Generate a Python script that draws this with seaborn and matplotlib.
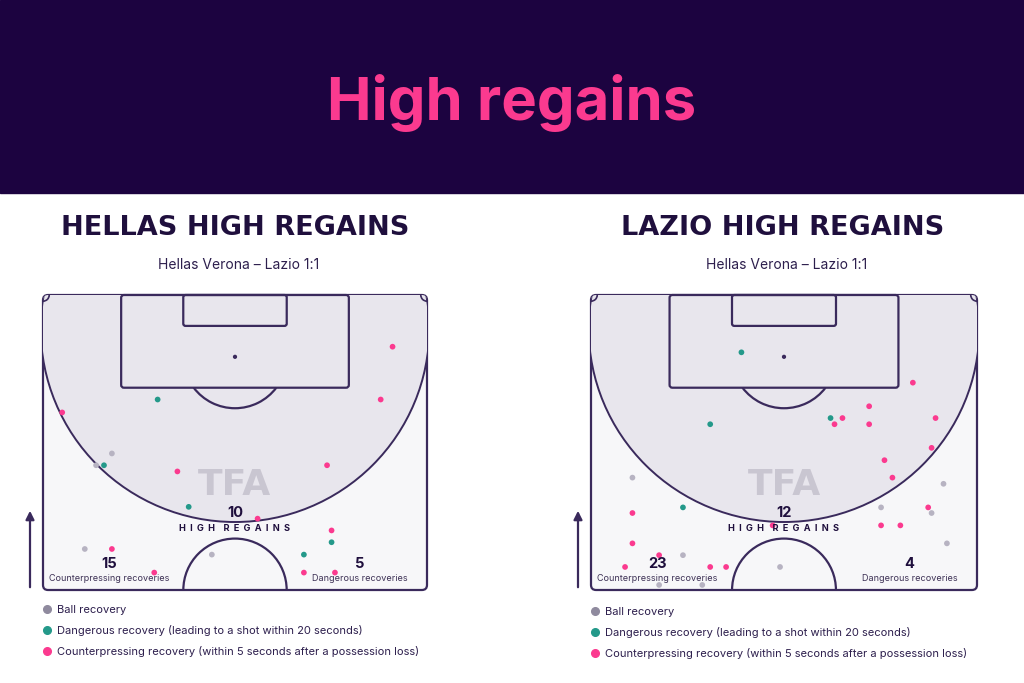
import pandas as pd
import matplotlib.pyplot as plt
import seaborn as sns
from matplotlib.patches import Rectangle, Circle, Arc, FancyBboxPatch, FancyArrowPatch
from matplotlib.lines import Line2D

sns.set_theme(style='white')
plt.rcParams['font.family'] = ['Inter', 'DejaVu Sans']

# --- data (pitch coords in metres: x across 0-68, y from goal line 0 down to halfway 52.5)
title = 'High regains'
panel_titles = ['HELLAS HIGH REGAINS', 'LAZIO HIGH REGAINS']
match_label = 'Hellas Verona – Lazio 1:1'
high_regains = [10, 12]
counterpress_totals = [15, 23]
dangerous_totals = [5, 4]

hellas_ball_x = [12.2, 9.4, 7.4, 29.9]
hellas_ball_y = [28.2, 30.3, 45.2, 46.2]
hellas_danger_x = [20.3, 10.8, 25.8, 51.1, 46.2]
hellas_danger_y = [18.6, 30.3, 37.7, 44.0, 46.2]
hellas_counter_x = [61.9, 59.8, 3.4, 50.3, 23.8, 38.0, 51.1, 12.2, 19.7, 46.2, 51.7]
hellas_counter_y = [9.2, 18.6, 20.9, 30.3, 31.4, 39.8, 41.9, 45.2, 49.4, 49.4, 49.4]

lazio_ball_x = [7.3, 62.1, 51.1, 60.0, 62.7, 16.2, 33.3, 12.0, 19.6]
lazio_ball_y = [32.5, 33.6, 37.8, 38.8, 44.2, 46.3, 48.4, 51.6, 51.6]
lazio_danger_x = [26.5, 42.2, 21.0, 16.2]
lazio_danger_y = [10.2, 21.9, 23.0, 37.8]
lazio_counter_x = [56.7, 49.0, 44.3, 60.7, 42.9, 49.0, 60.0, 51.7, 53.1, 59.4,
                   7.3, 32.0, 51.1, 54.5, 7.3, 12.0, 6.0, 21.0, 23.8]
lazio_counter_y = [15.6, 19.8, 21.9, 21.9, 23.0, 23.0, 27.2, 29.4, 32.5, 37.8,
                   38.8, 41.0, 41.0, 41.0, 44.2, 46.3, 48.4, 48.4, 48.4]

categories = ['Ball recovery',
              'Dangerous recovery (leading to a shot within 20 seconds)',
              'Counterpressing recovery (within 5 seconds after a possession loss)']

NAVY = '#1c0340'
PINK = '#fb3a8f'
TEAL = '#24998a'
GREY = '#b7b3c2'
GREY_LEG = '#8f8a9e'
LINE = '#3a2a5c'
TXT = '#1f0f3d'


def make_df(bx, by, dx, dy, cx, cy):
    parts = [pd.DataFrame({'x': bx, 'y': by, 'type': categories[0]}),
             pd.DataFrame({'x': dx, 'y': dy, 'type': categories[1]}),
             pd.DataFrame({'x': cx, 'y': cy, 'type': categories[2]})]
    return pd.concat(parts, ignore_index=True)


def draw_pitch(ax):
    outer = FancyBboxPatch((0, 0), 68, 52.5, boxstyle='round,pad=0,rounding_size=0.9',
                           fc='#f7f7f9', ec=LINE, lw=1.6, clip_on=False, zorder=1)
    ax.add_patch(outer)
    zone = Circle((34, 6.0), 34.4, fc='#e8e6ed', ec=LINE, lw=1.4, zorder=1.5)
    ax.add_patch(zone)
    zone.set_clip_path(outer)
    ax.add_patch(FancyBboxPatch((13.84, 0), 40.32, 16.5, boxstyle='round,pad=0,rounding_size=0.5',
                                fill=False, ec=LINE, lw=1.6, zorder=2, clip_on=False))
    ax.add_patch(FancyBboxPatch((24.84, 0), 18.32, 5.5, boxstyle='round,pad=0,rounding_size=0.4',
                                fill=False, ec=LINE, lw=1.6, zorder=2, clip_on=False))
    ax.add_patch(Arc((34, 11), 18.3, 18.3, theta1=36.9, theta2=143.1, ec=LINE, lw=1.6, zorder=2))
    ax.add_patch(Arc((34, 52.5), 18.3, 18.3, theta1=180, theta2=360, ec=LINE, lw=1.6, zorder=2))
    ax.add_patch(Arc((0, 0), 2.2, 2.2, theta1=0, theta2=90, ec=LINE, lw=1.2, zorder=2))
    ax.add_patch(Arc((68, 0), 2.2, 2.2, theta1=90, theta2=180, ec=LINE, lw=1.2, zorder=2))
    ax.add_patch(Circle((34, 11), 0.25, color=LINE, zorder=2))
    # watermark
    ax.text(34, 33.9, 'TFA', ha='center', va='center', fontsize=26, fontweight='bold',
            color='#c9c6d1', family=['DejaVu Sans'], zorder=1.8)


fig = plt.figure(figsize=(10.24, 6.83), dpi=100)
fig.patch.set_facecolor('white')
fig.add_artist(Rectangle((0, 1 - 193 / 683), 1, 193 / 683, transform=fig.transFigure,
                         color=NAVY, zorder=0))
fig.text(0.5, 1 - 103 / 683, title, ha='center', va='center', fontsize=43,
         fontweight='bold', color=PINK)

panels = [
    (make_df(hellas_ball_x, hellas_ball_y, hellas_danger_x, hellas_danger_y,
             hellas_counter_x, hellas_counter_y), 43, 384, 235),
    (make_df(lazio_ball_x, lazio_ball_y, lazio_danger_x, lazio_danger_y,
             lazio_counter_x, lazio_counter_y), 591, 386, 783),
]

for i, (df, left_px, width_px, cx_px) in enumerate(panels):
    ax = fig.add_axes([left_px / 1024, 1 - 590 / 683, width_px / 1024, 295 / 683])
    ax.set_xlim(0, 68)
    ax.set_ylim(52.5, 0)
    ax.axis('off')
    draw_pitch(ax)
    sns.scatterplot(data=df, x='x', y='y', hue='type', hue_order=categories,
                    palette=[GREY, TEAL, PINK], s=17, linewidth=0, legend=False,
                    ax=ax, zorder=3, clip_on=False)
    ax.set_xlim(0, 68)
    ax.set_ylim(52.5, 0)

    ax.text(34, 38.8, str(high_regains[i]), ha='center', va='center', fontsize=10.5,
            fontweight='bold', color=TXT, zorder=4)
    ax.text(34, 41.6, 'H  I  G  H    R  E  G  A  I  N  S', ha='center', va='center',
            fontsize=6.6, fontweight='bold', color=TXT, zorder=4)
    ax.text(11.7, 47.8, str(counterpress_totals[i]), ha='center', va='center', fontsize=10.5,
            fontweight='bold', color=TXT, zorder=4)
    ax.text(11.7, 50.5, 'Counterpressing recoveries', ha='center', va='center', fontsize=6.5,
            color='#3d3155', zorder=4)
    ax.text(56.1, 47.8, str(dangerous_totals[i]), ha='center', va='center', fontsize=10.5,
            fontweight='bold', color=TXT, zorder=4)
    ax.text(56.1, 50.5, 'Dangerous recoveries', ha='center', va='center', fontsize=6.5,
            color='#3d3155', zorder=4)

    fig.text(cx_px / 1024, 1 - 228 / 683, panel_titles[i], ha='center', va='center',
             fontsize=19.5, fontweight='bold', color=TXT, family=['DejaVu Sans'])
    fig.text((cx_px + 4) / 1024, 1 - 265 / 683, match_label, ha='center', va='center',
             fontsize=10, color='#2d1f4d')

    # direction arrow
    ax_x = (left_px - 13) / 1024
    fig.add_artist(FancyArrowPatch((ax_x, 1 - 590 / 683), (ax_x, 1 - 508 / 683),
                                   transform=fig.transFigure, arrowstyle='-|>,head_length=5,head_width=2.5',
                                   color=LINE, lw=1.6))

    handles = [Line2D([], [], marker='o', ls='', color=c, markersize=5.5)
               for c in [GREY_LEG, TEAL, PINK]]
    fig.legend(handles, categories, loc='upper left',
               bbox_to_anchor=((left_px - 2) / 1024, 1 - (605 + 2 * i) / 683),
               frameon=False, fontsize=8, handletextpad=0.45, labelspacing=0.88,
               handlelength=1.0, labelcolor='#2d1f4d', borderaxespad=0, borderpad=0)

fig.savefig('out.png', dpi=100, facecolor='white')
